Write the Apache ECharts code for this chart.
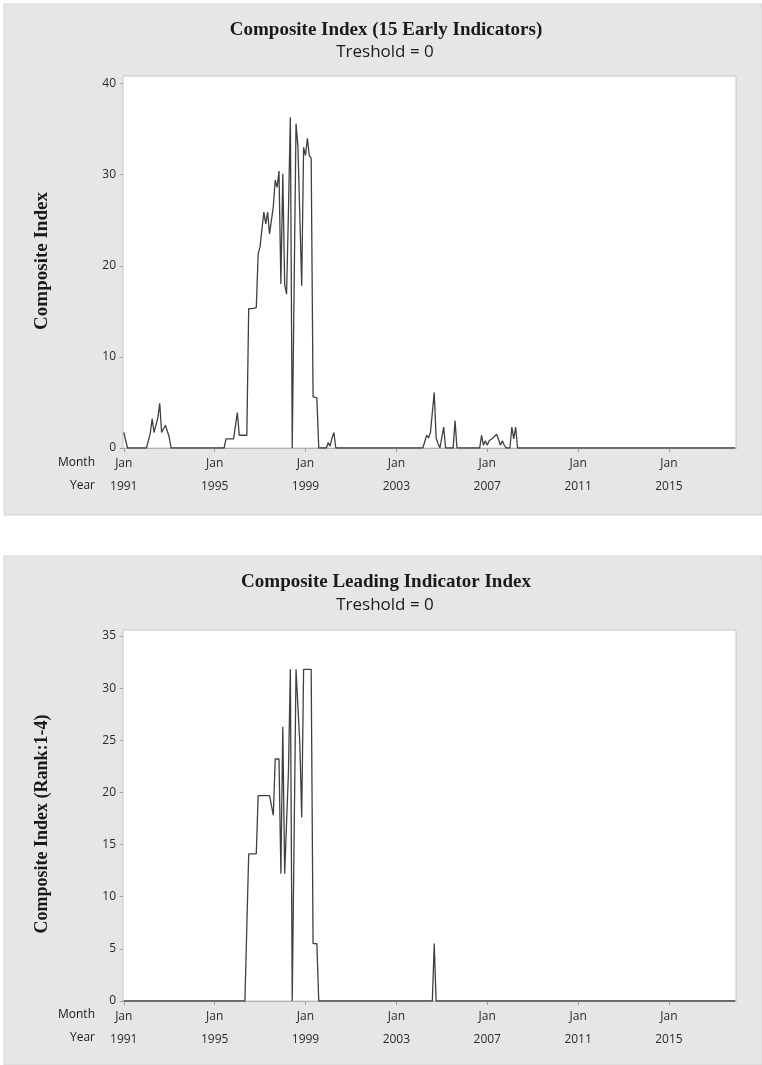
<!DOCTYPE html>
<html><head><meta charset="utf-8">
<script src="https://cdn.jsdelivr.net/npm/echarts@6/dist/echarts.min.js"></script>
<style>html,body{margin:0;padding:0;background:#fff}#c{width:762px;height:1065px}</style>
</head><body><div id="c"></div>
<script>
// ---------- data ----------
const startYear = 1991;
const tickYears = [1991, 1995, 1999, 2003, 2007, 2011, 2015];
const tickMonth = 'Jan';
const yTicksTop = [0, 10, 20, 30, 40];
const yTicksBottom = [0, 5, 10, 15, 20, 25, 30, 35];
const titleTop = 'Composite Index (15 Early Indicators)';
const titleBottom = 'Composite Leading Indicator Index';
const subtitle = 'Treshold = 0';
const yNameTop = 'Composite Index';
const yNameBottom = 'Composite Index (Rank:1-4)';
const rowLabels = ['Month', 'Year'];

// monthly values, Jan 1991 .. Dec 2017 (one row per year)
const composite15 = [
  1.7,1.7,0,0,0,0,0,0,0,0,0,0,            // 1991
  0,0,1.6,3.2,1.7,1.7,3.3,4.9,1.7,1.7,2.5,2.5, // 1992
  1.2,0,0,0,0,0,0,0,0,0,0,0,              // 1993
  0,0,0,0,0,0,0,0,0,0,0,0,                // 1994
  0,0,0,0,0,0,1.0,1.0,1.0,1.0,1.0,1.0,    // 1995
  3.9,1.4,1.4,1.4,1.4,1.4,15.3,15.3,15.3,15.4,15.4,21.3, // 1996
  22.1,22.3,25.9,24.6,25.9,23.5,23.5,26.5,29.4,28.6,30.4,18.0, // 1997
  30.1,17.9,16.9,26.0,36.3,0,0,35.6,33.1,25.5,17.8,33.0, // 1998
  32.1,34.0,32.1,31.8,5.6,5.5,5.5,0,0,0,0,0, // 1999
  0.6,0.2,1.1,1.7,0,0,0,0,0,0,0,0,        // 2000
  0,0,0,0,0,0,0,0,0,0,0,0,                // 2001
  0,0,0,0,0,0,0,0,0,0,0,0,                // 2002
  0,0,0,0,0,0,0,0,0,0,0,0,                // 2003
  0,0,0,0,1.4,1.1,1.7,1.9,6.1,1.1,0.5,0,  // 2004
  0,2.3,0,0,0,0,0,3.0,0,0,0,0,            // 2005
  0,0,0,0,0,0,0,0,0,1.4,0.3,0.8,          // 2006
  0.3,0.8,0.8,1.1,1.3,1.5,0.9,0.3,0.8,0.3,0,0, // 2007
  0,2.3,1.0,2.3,0,0,0,0,0,0,0,0,          // 2008
  0,0,0,0,0,0,0,0,0,0,0,0,                // 2009
  0,0,0,0,0,0,0,0,0,0,0,0,                // 2010
  0,0,0,0,0,0,0,0,0,0,0,0,                // 2011
  0,0,0,0,0,0,0,0,0,0,0,0,                // 2012
  0,0,0,0,0,0,0,0,0,0,0,0,                // 2013
  0,0,0,0,0,0,0,0,0,0,0,0,                // 2014
  0,0,0,0,0,0,0,0,0,0,0,0,                // 2015
  0,0,0,0,0,0,0,0,0,0,0,0,                // 2016
  0,0,0,0,0,0,0,0,0,0,0,0                 // 2017
];
const leading = [
  0,0,0,0,0,0,0,0,0,0,0,0,                // 1991
  0,0,0,0,0,0,0,0,0,0,0,0,                // 1992
  0,0,0,0,0,0,0,0,0,0,0,0,                // 1993
  0,0,0,0,0,0,0,0,0,0,0,0,                // 1994
  0,0,0,0,0,0,0,0,0,0,0,0,                // 1995
  0,0,0,0,0,0,14.1,14.1,14.1,14.1,14.1,19.7, // 1996
  19.7,19.7,19.7,19.7,19.7,19.7,19.7,17.8,23.2,23.2,23.2,12.2, // 1997
  26.3,12.2,12.2,22.0,31.8,0,0,31.8,31.8,24.7,17.6,31.8, // 1998
  31.8,31.8,31.8,31.8,5.5,5.5,5.5,0,0,0,0,0, // 1999
  0,0,0,0,0,0,0,0,0,0,0,0,                // 2000
  0,0,0,0,0,0,0,0,0,0,0,0,                // 2001
  0,0,0,0,0,0,0,0,0,0,0,0,                // 2002
  0,0,0,0,0,0,0,0,0,0,0,0,                // 2003
  0,0,0,0,0,0,0,0,5.5,0,0,0,              // 2004
  0,0,0,0,0,0,0,0,0,0,0,0,                // 2005
  0,0,0,0,0,0,0,0,0,0,0,0,                // 2006
  0,0,0,0,0,0,0,0,0,0,0,0,                // 2007
  0,0,0,0,0,0,0,0,0,0,0,0,                // 2008
  0,0,0,0,0,0,0,0,0,0,0,0,                // 2009
  0,0,0,0,0,0,0,0,0,0,0,0,                // 2010
  0,0,0,0,0,0,0,0,0,0,0,0,                // 2011
  0,0,0,0,0,0,0,0,0,0,0,0,                // 2012
  0,0,0,0,0,0,0,0,0,0,0,0,                // 2013
  0,0,0,0,0,0,0,0,0,0,0,0,                // 2014
  0,0,0,0,0,0,0,0,0,0,0,0,                // 2015
  0,0,0,0,0,0,0,0,0,0,0,0,                // 2016
  0,0,0,0,0,0,0,0,0,0,0,0                 // 2017
];

// ---------- chart ----------
const SANS = "'Open Sans', 'Noto Sans', sans-serif";
const SERIF = "'Liberation Serif', 'DejaVu Serif', serif";
const AXIS_C = '#9d9d9d';
const tickIdx = tickYears.map(y => (y - startYear) * 12);

function xAxisCfg(gi) {
  return {
    type: 'value', gridIndex: gi, min: -0.4, max: 323.4,
    axisLine: { show: true, onZero: false, lineStyle: { color: AXIS_C, width: 1 } },
    axisTick: { show: true, length: 4, customValues: tickIdx, lineStyle: { color: AXIS_C } },
    axisLabel: {
      customValues: tickIdx,
      formatter: v => tickMonth + '\n' + (startYear + Math.round(v / 12)),
      color: '#2a2a2a', fontFamily: SANS, fontSize: 12, lineHeight: 23, margin: 4
    },
    splitLine: { show: false }
  };
}
function yAxisCfg(gi, max, ticks) {
  return {
    type: 'value', gridIndex: gi, min: 0, max: max,
    axisLine: { show: true, lineStyle: { color: AXIS_C, width: 1 } },
    axisTick: { show: true, length: 4, customValues: ticks, lineStyle: { color: AXIS_C } },
    axisLabel: { customValues: ticks, color: '#2a2a2a', fontFamily: SANS, fontSize: 12, margin: 7 },
    splitLine: { show: false }
  };
}
function txt(text, x, y, font, align, extra) {
  return Object.assign({
    type: 'text', x: x, y: y, z: 10,
    style: { text: text, font: font, fill: '#1a1a1a', align: align || 'center', verticalAlign: 'middle' }
  }, extra || {});
}

const TITLE_FONT = 'bold 19px ' + SERIF;
const SUB_FONT = '17px ' + SANS;
const YNAME_FONT = 'bold 18px ' + SERIF;
const ROW_FONT = '12px ' + SANS;

const chart = echarts.init(document.getElementById('c'), null, { renderer: 'canvas' });
chart.setOption({
  backgroundColor: '#ffffff',
  animation: false,
  grid: [
    { left: 123, top: 76, width: 613, height: 372, show: true, backgroundColor: '#fff', borderColor: '#c6c6c6', borderWidth: 1, z: 1 },
    { left: 123, top: 630, width: 613, height: 371, show: true, backgroundColor: '#fff', borderColor: '#c6c6c6', borderWidth: 1, z: 1 }
  ],
  xAxis: [xAxisCfg(0), xAxisCfg(1)],
  yAxis: [yAxisCfg(0, 40.83, yTicksTop), yAxisCfg(1, 35.57, yTicksBottom)],
  graphic: {
    elements: [
      { type: 'rect', z: -100, shape: { x: 4, y: 4, width: 758, height: 511 }, style: { fill: '#e6e6e6', stroke: '#d4d4d4', lineWidth: 1 } },
      { type: 'rect', z: -100, shape: { x: 4, y: 556, width: 758, height: 509 }, style: { fill: '#e6e6e6', stroke: '#d4d4d4', lineWidth: 1 } },
      txt(titleTop, 386, 30, TITLE_FONT),
      txt(subtitle, 385, 52, SUB_FONT),
      txt(titleBottom, 386, 582, TITLE_FONT),
      txt(subtitle, 385, 605, SUB_FONT),
      txt(rowLabels[0], 95, 463, ROW_FONT, 'right'),
      txt(rowLabels[1], 95, 486, ROW_FONT, 'right'),
      txt(rowLabels[0], 95, 1015, ROW_FONT, 'right'),
      txt(rowLabels[1], 95, 1038, ROW_FONT, 'right'),
      txt(yNameTop, 42, 261, 'bold 19px ' + SERIF, 'center', { rotation: Math.PI / 2 }),
      txt(yNameBottom, 42, 824, YNAME_FONT, 'center', { rotation: Math.PI / 2 })
    ]
  },
  series: [
    {
      type: 'line', xAxisIndex: 0, yAxisIndex: 0, showSymbol: false, z: 5,
      lineStyle: { color: '#404040', width: 1.3 },
      data: composite15.map((v, i) => [i, v])
    },
    {
      type: 'line', xAxisIndex: 1, yAxisIndex: 1, showSymbol: false, z: 5,
      lineStyle: { color: '#404040', width: 1.3 },
      data: leading.map((v, i) => [i, v])
    }
  ]
});
</script>
</body></html>
